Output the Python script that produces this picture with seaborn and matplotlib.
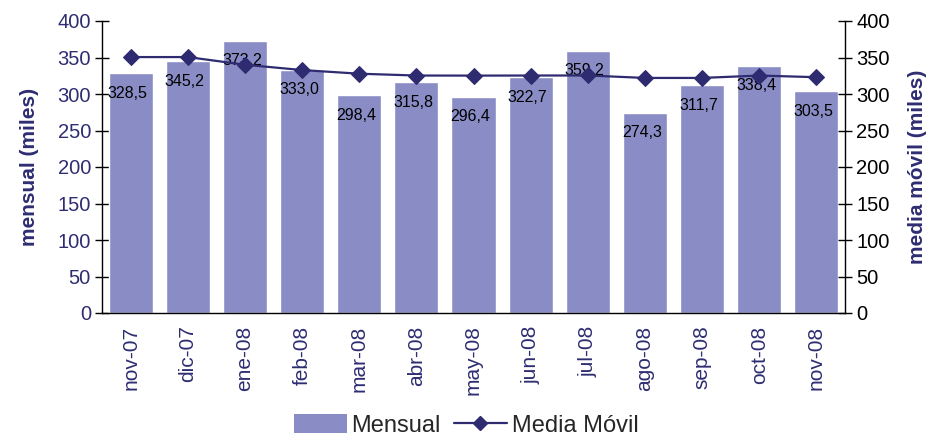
import numpy as np
import pandas as pd
import matplotlib
matplotlib.use("Agg")
import matplotlib.pyplot as plt
import seaborn as sns
from matplotlib.lines import Line2D
from matplotlib.patches import Patch

categories = ["nov-07", "dic-07", "ene-08", "feb-08", "mar-08", "abr-08", "may-08",
              "jun-08", "jul-08", "ago-08", "sep-08", "oct-08", "nov-08"]
mensual = [328.5, 345.2, 373.2, 333.0, 298.4, 315.8, 296.4, 322.7, 359.2, 274.3, 311.7, 338.4, 303.5]
media_movil = [350.6, 350.6, 340.1, 332.8, 327.8, 325.3, 325.2, 325.3, 325.4, 322.0, 322.0, 325.3, 323.0]
value_labels = ["328,5", "345,2", "373,2", "333,0", "298,4", "315,8", "296,4",
                "322,7", "359,2", "274,3", "311,7", "338,4", "303,5"]
yticks = [0, 50, 100, 150, 200, 250, 300, 350, 400]

BAR = "#8A8DC5"
LINE = "#2E2B70"
NAVY = "#2E2D72"

sns.set_theme(style="white")
plt.rcParams["font.family"] = ["Liberation Sans", "DejaVu Sans"]

fig = plt.figure(figsize=(9.32, 4.41), dpi=100)
ax = fig.add_axes([102/932, 1-313/441, (845-102)/932, (313-21)/441])

df = pd.DataFrame({"mes": categories, "mensual": mensual, "media": media_movil})
sns.barplot(data=df, x="mes", y="mensual", color=BAR, saturation=1, width=0.77, ax=ax)
ax.set_xlim(-0.5, len(categories) - 0.5)
ax.set_ylim(0, 400)
ax.set_yticks(yticks)
ax.set_yticklabels([str(t) for t in yticks], color=NAVY, fontsize=14.5)
ax.set_xticks(range(len(categories)))
ax.set_xticklabels(categories, rotation=90, color=NAVY, fontsize=15)
ax.tick_params(axis="x", which="major", length=0, pad=9)
ax.set_xticks(np.arange(-0.5, len(categories), 1.0), minor=True)
ax.tick_params(axis="x", which="minor", direction="inout", length=9, width=1, color="black")
ax.tick_params(axis="y", direction="inout", length=10, width=1, color="black", pad=3, left=True)
ax.set_xlabel("")
ax.set_ylabel("mensual (miles)", color=NAVY, fontsize=15, fontweight="bold", labelpad=13)
for s in ["top", "right"]:
    ax.spines[s].set_visible(False)
for s in ["left", "bottom"]:
    ax.spines[s].set_color("black")
    ax.spines[s].set_linewidth(1)

for i, (v, lab) in enumerate(zip(mensual, value_labels)):
    ax.annotate(lab, xy=(i, v), xytext=(-3, -20), textcoords="offset pixels",
                ha="center", va="center", fontsize=11.5, color="black",
                family=["Liberation Sans Narrow", "Liberation Sans"])

ax2 = ax.twinx()
sns.lineplot(x=np.arange(len(categories)), y=media_movil, color=LINE, lw=1.6,
             marker="D", markersize=8, markeredgecolor=LINE, ax=ax2)
ax2.set_ylim(0, 400)
ax2.set_xlim(-0.5, len(categories) - 0.5)
ax2.set_yticks(yticks)
ax2.set_yticklabels([str(t) for t in yticks], color="black", fontsize=14.5)
ax2.tick_params(axis="y", direction="inout", length=10, width=1, color="black", pad=3, right=True)
ax2.set_ylabel("media móvil (miles)", color=NAVY, fontsize=15, fontweight="bold", labelpad=13)
for s in ["top", "left", "bottom"]:
    ax2.spines[s].set_visible(False)
ax2.spines["right"].set_color("black")
ax2.spines["right"].set_linewidth(1)
ax2.grid(False)
ax.grid(False)

handles = [Patch(facecolor=BAR, edgecolor="none"),
           Line2D([0], [0], color=LINE, lw=1.6, marker="D", markersize=7)]
fig.legend(handles, ["Mensual", "Media Móvil"], loc="lower center", bbox_to_anchor=(0.5, -0.038),
           ncol=2, frameon=False, handlelength=2.25, handleheight=0.9, columnspacing=0.55,
           handletextpad=0.2, prop={"family": ["Liberation Sans Narrow", "Liberation Sans"], "size": 17})

fig.savefig("out.png", dpi=100)
